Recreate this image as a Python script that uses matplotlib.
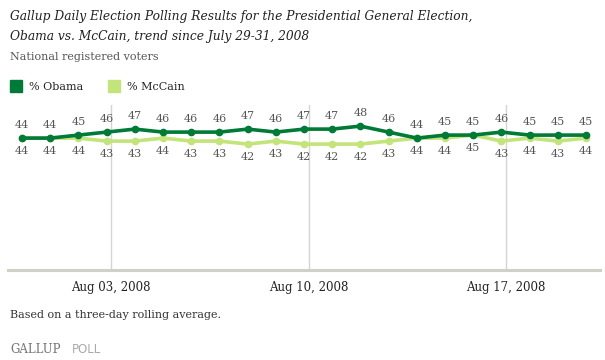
import numpy as np
import pandas as pd
import matplotlib
matplotlib.use("Agg")
import matplotlib.pyplot as plt
from matplotlib.patches import Rectangle

# data (three-day rolling average, Jul 31 - Aug 20 2008)
dates = pd.date_range("2008-07-31", "2008-08-20", freq="D")
obama = [44, 44, 45, 46, 47, 46, 46, 46, 47, 46, 47, 47, 48, 46, 44, 45, 45, 46, 45, 45, 45]
mccain = [44, 44, 44, 43, 43, 44, 43, 43, 42, 43, 42, 42, 42, 43, 44, 44, 45, 43, 44, 43, 44]
tick_dates = pd.to_datetime(["2008-08-03 04:00", "2008-08-10 04:00", "2008-08-17 04:00"])
tick_labels = ["Aug 03, 2008", "Aug 10, 2008", "Aug 17, 2008"]

dark = "#007a37"
light = "#c3e47a"
grey_txt = "#555555"
serif = "DejaVu Serif"

fig = plt.figure(figsize=(6.05, 3.6), dpi=100)
ax = fig.add_axes([0.013, 0.25, 0.979, 0.458])

ax.plot(dates, mccain, color=light, lw=2.6, marker="o", ms=4.5, zorder=3)
ax.plot(dates, obama, color=dark, lw=2.6, marker="o", ms=4.5, zorder=4)

# value labels: Obama above, McCain below
for d, o, m in zip(dates, obama, mccain):
    ax.annotate(str(o), (d, o), xytext=(0, 6), textcoords="offset points",
                ha="center", va="bottom", fontsize=8, color=grey_txt, family=serif)
    ax.annotate(str(m), (d, m), xytext=(0, -6), textcoords="offset points",
                ha="center", va="top", fontsize=8, color=grey_txt, family=serif)

ax.set_xlim(dates[0] - pd.Timedelta(hours=12), dates[-1] + pd.Timedelta(hours=12))
ax.set_ylim(0, 55)
ax.set_xticks(tick_dates)
ax.set_xticklabels(tick_labels, family=serif, fontsize=8.5, color="#222222")
ax.tick_params(axis="x", length=0, pad=8)
ax.set_yticks([])
ax.grid(axis="x", color="#d4d4d4", lw=1)
for s in ["top", "left", "right"]:
    ax.spines[s].set_visible(False)
ax.spines["bottom"].set_color("#d0d0c8")
ax.spines["bottom"].set_linewidth(2.2)

fig.text(0.017, 0.945, "Gallup Daily Election Polling Results for the Presidential General Election,",
         family=serif, style="italic", fontsize=8.85, color="#222222")
fig.text(0.017, 0.888, "Obama vs. McCain, trend since July 29-31, 2008",
         family=serif, style="italic", fontsize=8.85, color="#222222")
fig.text(0.017, 0.832, "National registered voters", family=serif, fontsize=8, color=grey_txt)

fig.patches.append(Rectangle((0.017, 0.745), 0.02, 0.033, transform=fig.transFigure,
                             color=dark, figure=fig))
fig.text(0.048, 0.749, "% Obama", family=serif, fontsize=8, color="#222222")
fig.patches.append(Rectangle((0.179, 0.745), 0.02, 0.033, transform=fig.transFigure,
                             color=light, figure=fig))
fig.text(0.21, 0.749, "% McCain", family=serif, fontsize=8, color="#222222")

fig.text(0.017, 0.117, "Based on a three-day rolling average.", family=serif, fontsize=8,
         color="#333333")
fig.text(0.017, 0.02, "GALLUP", family=serif, fontsize=8.5, color="#777777")
fig.text(0.118, 0.02, "POLL", family="DejaVu Sans", fontsize=8.5, color="#aaaaaa")

fig.savefig("out.png", dpi=100)
